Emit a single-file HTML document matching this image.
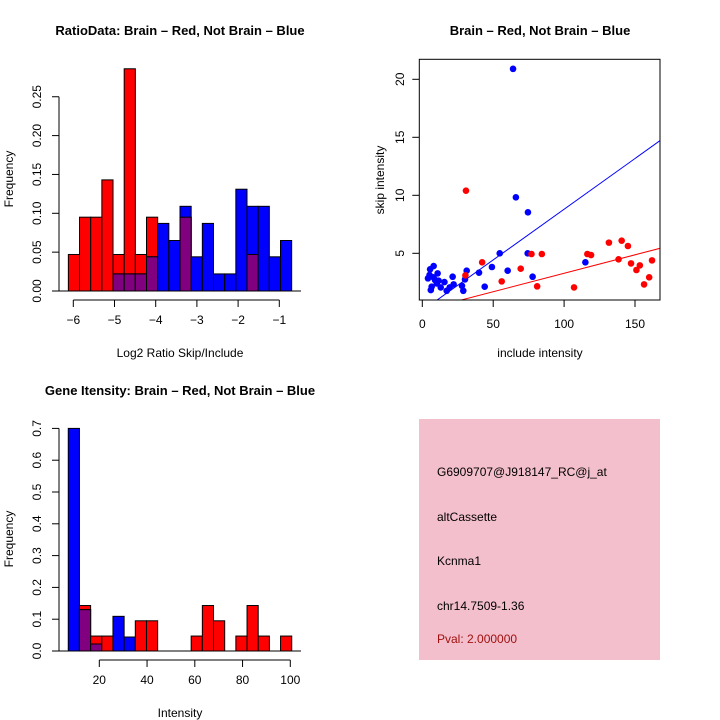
<!DOCTYPE html>
<html><head><meta charset="utf-8"><style>
body{margin:0;background:#fff}
svg{display:block;font-family:"Liberation Sans",sans-serif}
</style></head><body>
<svg id="c" width="720" height="720" viewBox="0 0 720 720" xmlns="http://www.w3.org/2000/svg">
<rect width="720" height="720" fill="#fff"/>
<g id="g1"></g>
<g id="g2"></g>
<g id="g3"></g>
<g>
<rect x="419" y="419" width="241" height="241" fill="#f3bfcc"/>
<text x="437" y="476" font-size="12">G6909707@J918147_RC@j_at</text>
<text x="437" y="521" font-size="12">altCassette</text>
<text x="437" y="565" font-size="12">Kcnma1</text>
<text x="437" y="610" font-size="12">chr14.7509-1.36</text>
<text x="437" y="643" font-size="12" fill="#a01010">Pval: 2.000000</text>
</g>
</svg>
<script>
// ---- Chart 1 data ----
const ratioStart = -6.12;
const ratioBinWidth = 0.271;
const ratioRed = [0.047,0.095,0.095,0.143,0.047,0.286,0.047,0.095,0,0,0.095,0,0,0,0,0,0.047,0,0,0];
const ratioBlue = [0,0,0,0,0.022,0.022,0.022,0.044,0.087,0.065,0.109,0.044,0.087,0.022,0.022,0.131,0.109,0.109,0.044,0.065];
const ratioXTicks = [-6,-5,-4,-3,-2,-1];
const ratioYTicks = [0,0.05,0.10,0.15,0.20,0.25];
const ratioYLabels = ["0.00","0.05","0.10","0.15","0.20","0.25"];
// ---- Chart 2 data ----
const blueX = [64,66,74.5,54.6,74.3,115,77.8,49.1,60.2,40,44,31.3,30.1,28.9,28,21.4,22.1,19.3,17.2,15.6,13,10.8,8,5.5,4,6.6,9,6,10.2,5.1,7.9,11.5];
const blueY = [20.9,9.83,8.53,5.0,5.0,4.22,2.98,3.82,3.5,3.33,2.12,3.5,2.75,1.77,2.2,2.98,2.32,2.06,1.77,2.52,2.06,3.27,3.9,3.62,2.84,2.12,2.7,1.83,2.4,3.13,2.93,2.64];
const redX = [30.8,30.4,42.2,56,69.4,77,84.3,81,107,116.4,119,131.6,140.6,145,138.4,147.2,151,153.4,160,156.4,162];
const redY = [10.4,3.1,4.22,2.58,3.67,4.94,4.94,2.15,2.06,4.94,4.85,5.92,6.09,5.63,4.48,4.13,3.56,3.96,2.93,2.32,4.39];
const blueFit = [0.06,0.0874];
const redFit = [0.1,0.0318];
const scatXTicks = [0,50,100,150];
const scatYTicks = [5,10,15,20];
// ---- Chart 3 data ----
const intStart = 7.0;
const intBinWidth = 4.68;
const intRed = [0,0.143,0.047,0.047,0,0,0.095,0.095,0,0,0,0.047,0.143,0.095,0,0.047,0.143,0.047,0,0.047];
const intBlue = [0.70,0.13,0.022,0,0.109,0.044,0,0,0,0,0,0,0,0,0,0,0,0,0,0];
const intXTicks = [20,40,60,80,100];
const intYTicks = [0,0.1,0.2,0.3,0.4,0.5,0.6,0.7];
const intYLabels = ["0.0","0.1","0.2","0.3","0.4","0.5","0.6","0.7"];

const NS="http://www.w3.org/2000/svg";
function mk(parent,tag,attrs,txt){const e=document.createElementNS(NS,tag);for(const k in attrs)e.setAttribute(k,attrs[k]);if(txt!==undefined)e.textContent=txt;parent.appendChild(e);return e;}

function hist(g,o){
  const sx=v=>o.x0+(v-o.v0)*o.kx, sy=v=>o.base-v*o.ky;
  for(let i=0;i<o.red.length;i++){
    const a=o.start+i*o.bw,b=a+o.bw,r=o.red[i],bl=o.blue[i];
    const x=sx(a),w=sx(b)-sx(a);
    if(r>0){const e=mk(g,'rect',{x:x,y:sy(r),width:w,height:o.base-sy(r),fill:'#ff0000',stroke:'#000','stroke-width':1});
      }
    if(bl>0){const e=mk(g,'rect',{x:x,y:sy(bl),width:w,height:o.base-sy(bl),fill:'#0000ff',stroke:'#000','stroke-width':1});
      }
    const m=Math.min(r,bl);
    if(m>0){const e=mk(g,'rect',{x:x,y:sy(m),width:w,height:o.base-sy(m),fill:'#800080',stroke:'#000','stroke-width':1});
      }
  }
  mk(g,'line',{x1:52,x2:301,y1:o.base,y2:o.base,stroke:'#000'});
  const ya=mk(g,'g',{});
  mk(ya,'line',{x1:59,x2:59,y1:sy(o.yt[0]),y2:sy(o.yt[o.yt.length-1]),stroke:'#000'});
  o.yt.forEach((t,i)=>{mk(ya,'line',{x1:52,x2:59,y1:sy(t),y2:sy(t),stroke:'#000'});
    const tx=mk(ya,'text',{x:0,y:0,'font-size':12,'text-anchor':'middle',transform:`translate(41,${sy(t)}) rotate(-90)`},o.yl[i]);
    });
  const xa=mk(g,'g',{});
  const ay=o.base+9;
  mk(xa,'line',{x1:sx(o.xt[0]),x2:sx(o.xt[o.xt.length-1]),y1:ay,y2:ay,stroke:'#000'});
  o.xt.forEach(t=>{mk(xa,'line',{x1:sx(t),x2:sx(t),y1:ay,y2:ay+7,stroke:'#000'});
    const tx=mk(xa,'text',{x:sx(t),y:ay+24,'font-size':12,'text-anchor':'middle'},String(t).replace('-','\u2212'));
    });
  const xt=mk(g,'text',{x:180,y:o.base+66,'font-size':12,'text-anchor':'middle'},o.xlab);
  
  const yt=mk(g,'text',{x:0,y:0,'font-size':12,'text-anchor':'middle',transform:`translate(13,${o.base-112}) rotate(-90)`},'Frequency');
  
  const tt=mk(g,'text',{x:180,y:o.base-o.titleOff,'font-size':13,'font-weight':'bold','text-anchor':'middle'},o.title);
  
}

hist(document.getElementById('g1'),{start:ratioStart,bw:ratioBinWidth,red:ratioRed,blue:ratioBlue,x0:73.3,v0:-6,kx:41.2,base:291,ky:777,
  xt:ratioXTicks,yt:ratioYTicks,yl:ratioYLabels,xlab:'Log2 Ratio Skip/Include',title:'RatioData: Brain \u2013 Red, Not Brain \u2013 Blue',titleOff:256});
hist(document.getElementById('g3'),{start:intStart,bw:intBinWidth,red:intRed,blue:intBlue,x0:99.3,v0:20,kx:2.3875,base:651,ky:318,
  xt:intXTicks,yt:intYTicks,yl:intYLabels,xlab:'Intensity',title:'Gene Itensity: Brain \u2013 Red, Not Brain \u2013 Blue',titleOff:256});

(function(){
  const g=document.getElementById('g2');
  const sx=v=>422.3+v*1.418, sy=v=>253.3-(v-5)*11.6;
  const L=419.3,R=660,T=59.3,B=300;
  const cp=mk(g,'clipPath',{id:'sc'});mk(cp,'rect',{x:L,y:T,width:R-L,height:B-T});
  const fits=[[blueFit,'#0000ff','blue-fit-line'],[redFit,'#ff0000','red-fit-line']];
  fits.forEach(f=>{const x1=-5,x2=175;
    const e=mk(g,'line',{x1:sx(x1),x2:sx(x2),y1:sy(f[0][0]+f[0][1]*x1),y2:sy(f[0][0]+f[0][1]*x2),stroke:f[1],'stroke-width':1,'clip-path':'url(#sc)'});
    });
  blueX.forEach((x,i)=>{const e=mk(g,'circle',{cx:sx(x),cy:sy(blueY[i]),r:3.3,fill:'#0000ff'});
    });
  redX.forEach((x,i)=>{const e=mk(g,'circle',{cx:sx(x),cy:sy(redY[i]),r:3.3,fill:'#ff0000'});
    });
  const box=mk(g,'rect',{x:L,y:T,width:R-L,height:B-T,fill:'none',stroke:'#000'});
  
  scatXTicks.forEach(t=>{mk(g,'line',{x1:sx(t),x2:sx(t),y1:B,y2:B+7,stroke:'#000'});
    const e=mk(g,'text',{x:sx(t),y:B+28,'font-size':12,'text-anchor':'middle'},String(t));
    });
  scatYTicks.forEach(t=>{mk(g,'line',{x1:L-7,x2:L,y1:sy(t),y2:sy(t),stroke:'#000'});
    const e=mk(g,'text',{x:0,y:0,'font-size':12,'text-anchor':'middle',transform:`translate(404,${sy(t)}) rotate(-90)`},String(t));
    });
  const xt=mk(g,'text',{x:540,y:357,'font-size':12,'text-anchor':'middle'},'include intensity');
  
  const yt=mk(g,'text',{x:0,y:0,'font-size':12,'text-anchor':'middle',transform:'translate(384,180) rotate(-90)'},'skip intensity');
  
  const tt=mk(g,'text',{x:540,y:35,'font-size':13,'font-weight':'bold','text-anchor':'middle'},'Brain \u2013 Red, Not Brain \u2013 Blue');
  
})();
</script>
</body></html>
